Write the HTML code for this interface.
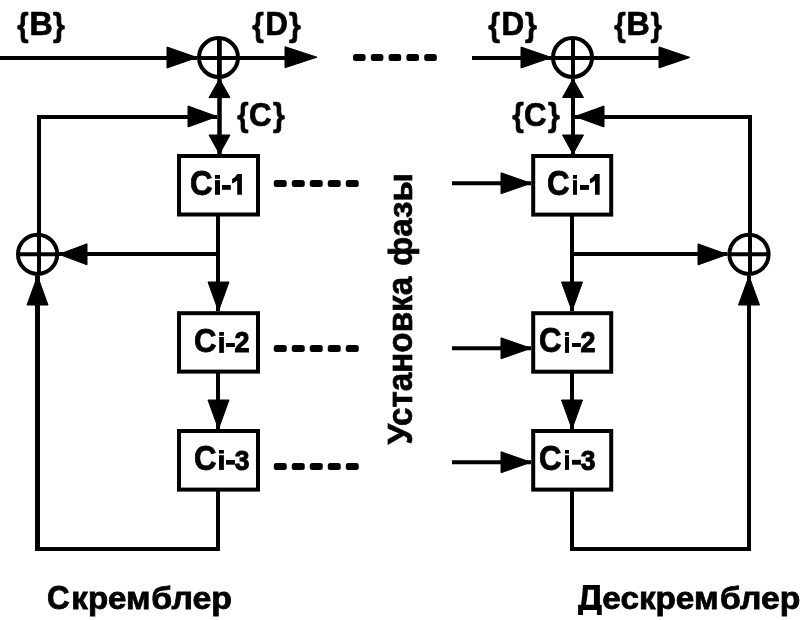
<!DOCTYPE html>
<html><head><meta charset="utf-8"><style>html,body{margin:0;padding:0;background:#fff;width:800px;height:620px;overflow:hidden}svg{display:block}</style></head>
<body><svg width="800" height="620" viewBox="0 0 800 620">
<rect width="800" height="620" fill="#fff"/>
<g stroke="#000" fill="#000">
<line x1="0" y1="58" x2="197" y2="58" stroke-width="4"/>
<polygon points="167,47.0 167,68.0 197,57.5"/>
<circle cx="218.5" cy="57.5" r="19.5" stroke-width="4" fill="none"/>
<line x1="219.4" y1="37.0" x2="219.4" y2="78.0" stroke-width="4.8"/>
<line x1="198.0" y1="58" x2="239.0" y2="58" stroke-width="4"/>
<line x1="238" y1="58" x2="286" y2="58" stroke-width="4"/>
<polygon points="285,46.7 285,67.7 317,57.2"/>
<rect x="353.0" y="54" width="12.6" height="7" rx="2.5" stroke="none"/>
<rect x="370.8" y="54" width="12.6" height="7" rx="2.5" stroke="none"/>
<rect x="388.6" y="54" width="12.6" height="7" rx="2.5" stroke="none"/>
<rect x="406.4" y="54" width="12.6" height="7" rx="2.5" stroke="none"/>
<rect x="424.2" y="54" width="12.6" height="7" rx="2.5" stroke="none"/>
<line x1="472" y1="58" x2="551.5" y2="58" stroke-width="4"/>
<polygon points="521,47.0 521,68.0 551.5,57.5"/>
<circle cx="572.5" cy="57.5" r="19.5" stroke-width="4" fill="none"/>
<line x1="573" y1="37.0" x2="573" y2="78.0" stroke-width="4"/>
<line x1="552.0" y1="58" x2="593.0" y2="58" stroke-width="4"/>
<line x1="592" y1="58" x2="660" y2="58" stroke-width="4"/>
<polygon points="659,46.9 659,67.9 690,57.4"/>
<line x1="219.5" y1="79" x2="219.5" y2="154" stroke-width="4.5"/>
<polygon points="209.0,97.6 230.0,97.6 219.5,79"/>
<polygon points="209.0,135 230.0,135 219.5,154"/>
<line x1="39" y1="235" x2="39" y2="117" stroke-width="4"/>
<line x1="37" y1="117" x2="217" y2="117" stroke-width="4"/>
<polygon points="188,106.0 188,127.0 217,116.5"/>
<rect x="179" y="156" width="79" height="58.5" stroke-width="4" fill="none"/>
<line x1="218" y1="216" x2="218" y2="311" stroke-width="4"/>
<line x1="59" y1="254" x2="218" y2="254" stroke-width="4"/>
<polygon points="87,243.8 87,264.8 59,254.3"/>
<polygon points="208.0,282 229.0,282 218.5,311"/>
<circle cx="37.6" cy="254.3" r="19.6" stroke-width="4" fill="none"/>
<line x1="39" y1="233.70000000000002" x2="39" y2="274.90000000000003" stroke-width="4"/>
<line x1="17.0" y1="254.3" x2="58.2" y2="254.3" stroke-width="4"/>
<rect x="179" y="313.2" width="79" height="58.4" stroke-width="4" fill="none"/>
<line x1="218" y1="373" x2="218" y2="429" stroke-width="4"/>
<polygon points="208.0,400 229.0,400 218.5,429"/>
<rect x="179" y="431" width="79" height="58.6" stroke-width="4" fill="none"/>
<line x1="218" y1="491" x2="218" y2="549" stroke-width="4"/>
<line x1="35.5" y1="549" x2="220" y2="549" stroke-width="4"/>
<line x1="37.5" y1="551" x2="37.5" y2="276" stroke-width="5"/>
<polygon points="27.0,305 48.0,305 37.5,276"/>
<line x1="573" y1="79" x2="573" y2="154" stroke-width="4"/>
<polygon points="562.5,97.5 583.5,97.5 573,79"/>
<polygon points="562.5,135 583.5,135 573,154"/>
<line x1="575" y1="117" x2="752" y2="117" stroke-width="4"/>
<line x1="750" y1="115" x2="750" y2="235" stroke-width="4"/>
<polygon points="604,106.0 604,127.0 575,116.5"/>
<rect x="533.2" y="156" width="78" height="58.6" stroke-width="4" fill="none"/>
<line x1="572" y1="216" x2="572" y2="311" stroke-width="4"/>
<line x1="572" y1="254" x2="727.4" y2="254" stroke-width="4"/>
<polygon points="698,243.9 698,264.9 727.4,254.4"/>
<polygon points="561.5,282 582.5,282 572,311"/>
<circle cx="749" cy="254.3" r="19.6" stroke-width="4" fill="none"/>
<line x1="750" y1="233.70000000000002" x2="750" y2="274.90000000000003" stroke-width="4"/>
<line x1="728.4" y1="254.2" x2="769.6" y2="254.2" stroke-width="4"/>
<rect x="533.2" y="313.2" width="78" height="58.5" stroke-width="4" fill="none"/>
<line x1="572" y1="373" x2="572" y2="429" stroke-width="4"/>
<polygon points="561.5,400 582.5,400 572,429"/>
<rect x="533.2" y="431" width="78" height="58.6" stroke-width="4" fill="none"/>
<line x1="572" y1="491" x2="572" y2="549" stroke-width="4"/>
<line x1="570" y1="549" x2="751" y2="549" stroke-width="4"/>
<line x1="749" y1="551" x2="749" y2="276" stroke-width="4"/>
<polygon points="738.5,305 759.5,305 749,276"/>
<line x1="452" y1="183.25" x2="531" y2="183.25" stroke-width="4"/>
<polygon points="501,172.75 501,193.75 531,183.25"/>
<line x1="452" y1="348.3" x2="531" y2="348.3" stroke-width="4"/>
<polygon points="501,337.8 501,358.8 531,348.3"/>
<line x1="452" y1="462.25" x2="531" y2="462.25" stroke-width="4"/>
<polygon points="501,451.75 501,472.75 531,462.25"/>
<rect x="273.75" y="179.9" width="13" height="7" rx="2.5" stroke="none"/>
<rect x="291.75" y="179.9" width="13" height="7" rx="2.5" stroke="none"/>
<rect x="309.75" y="179.9" width="13" height="7" rx="2.5" stroke="none"/>
<rect x="327.75" y="179.9" width="13" height="7" rx="2.5" stroke="none"/>
<rect x="345.75" y="179.9" width="13" height="7" rx="2.5" stroke="none"/>
<rect x="273.75" y="344.9" width="13" height="7" rx="2.5" stroke="none"/>
<rect x="291.75" y="344.9" width="13" height="7" rx="2.5" stroke="none"/>
<rect x="309.75" y="344.9" width="13" height="7" rx="2.5" stroke="none"/>
<rect x="327.75" y="344.9" width="13" height="7" rx="2.5" stroke="none"/>
<rect x="345.75" y="344.9" width="13" height="7" rx="2.5" stroke="none"/>
<rect x="273.75" y="462.9" width="13" height="7" rx="2.5" stroke="none"/>
<rect x="291.75" y="462.9" width="13" height="7" rx="2.5" stroke="none"/>
<rect x="309.75" y="462.9" width="13" height="7" rx="2.5" stroke="none"/>
<rect x="327.75" y="462.9" width="13" height="7" rx="2.5" stroke="none"/>
<rect x="345.75" y="462.9" width="13" height="7" rx="2.5" stroke="none"/>
</g>
<g fill="#000" stroke="#000" stroke-width="2" opacity="0.999">
<text font-family="'Liberation Sans', sans-serif" font-weight="bold" font-size="100" stroke-width="2.249" transform="matrix(0.29167 0 0 0.33085 17.158 35.602)">{</text>
<text font-family="'Liberation Sans', sans-serif" font-weight="bold" font-size="100" stroke-width="2.139" transform="matrix(0.32258 0 0 0.33188 29.515 35.250)">B</text>
<text font-family="'Liberation Sans', sans-serif" font-weight="bold" font-size="100" stroke-width="2.209" transform="matrix(0.30278 0 0 0.33085 53.044 35.602)">}</text>
<text font-family="'Liberation Sans', sans-serif" font-weight="bold" font-size="100" stroke-width="2.229" transform="matrix(0.29722 0 0 0.33085 252.153 35.602)">{</text>
<text font-family="'Liberation Sans', sans-serif" font-weight="bold" font-size="100" stroke-width="2.182" transform="matrix(0.30968 0 0 0.33188 265.392 35.250)">D</text>
<text font-family="'Liberation Sans', sans-serif" font-weight="bold" font-size="100" stroke-width="2.209" transform="matrix(0.30278 0 0 0.33085 289.044 35.602)">}</text>
<text font-family="'Liberation Sans', sans-serif" font-weight="bold" font-size="100" stroke-width="2.209" transform="matrix(0.30278 0 0 0.33085 488.147 35.602)">{</text>
<text font-family="'Liberation Sans', sans-serif" font-weight="bold" font-size="100" stroke-width="2.161" transform="matrix(0.31452 0 0 0.33333 501.463 35.350)">D</text>
<text font-family="'Liberation Sans', sans-serif" font-weight="bold" font-size="100" stroke-width="2.200" transform="matrix(0.30556 0 0 0.33085 525.039 35.602)">}</text>
<text font-family="'Liberation Sans', sans-serif" font-weight="bold" font-size="100" stroke-width="2.229" transform="matrix(0.29722 0 0 0.33085 614.153 35.602)">{</text>
<text font-family="'Liberation Sans', sans-serif" font-weight="bold" font-size="100" stroke-width="2.139" transform="matrix(0.32258 0 0 0.33188 626.515 35.250)">B</text>
<text font-family="'Liberation Sans', sans-serif" font-weight="bold" font-size="100" stroke-width="2.249" transform="matrix(0.29167 0 0 0.33085 650.467 35.602)">}</text>
<text font-family="'Liberation Sans', sans-serif" font-weight="bold" font-size="100" stroke-width="2.249" transform="matrix(0.29167 0 0 0.33085 237.158 126.402)">{</text>
<text font-family="'Liberation Sans', sans-serif" font-weight="bold" font-size="100" stroke-width="2.143" transform="matrix(0.31231 0 0 0.34085 249.101 126.109)">C</text>
<text font-family="'Liberation Sans', sans-serif" font-weight="bold" font-size="100" stroke-width="2.209" transform="matrix(0.30278 0 0 0.33085 273.044 126.402)">}</text>
<text font-family="'Liberation Sans', sans-serif" font-weight="bold" font-size="100" stroke-width="2.229" transform="matrix(0.29722 0 0 0.33085 512.153 126.402)">{</text>
<text font-family="'Liberation Sans', sans-serif" font-weight="bold" font-size="100" stroke-width="2.143" transform="matrix(0.31231 0 0 0.34085 524.101 126.109)">C</text>
<text font-family="'Liberation Sans', sans-serif" font-weight="bold" font-size="100" stroke-width="2.209" transform="matrix(0.30278 0 0 0.33085 548.044 126.402)">}</text>
<text font-family="'Liberation Sans', sans-serif" font-weight="bold" font-size="100" stroke-width="2.444" transform="matrix(0.31231 0 0 0.34225 190.051 195.158)">C</text>
<text font-family="'Liberation Sans', sans-serif" font-weight="bold" font-size="100" stroke-width="2.450" transform="matrix(0.31231 0 0 0.34085 194.051 352.059)">C</text>
<text font-family="'Liberation Sans', sans-serif" font-weight="bold" font-size="100" stroke-width="2.444" transform="matrix(0.31231 0 0 0.34225 194.051 470.158)">C</text>
<text font-family="'Liberation Sans', sans-serif" font-weight="bold" font-size="100" stroke-width="2.444" transform="matrix(0.31231 0 0 0.34225 547.051 195.158)">C</text>
<text font-family="'Liberation Sans', sans-serif" font-weight="bold" font-size="100" stroke-width="2.444" transform="matrix(0.31231 0 0 0.34225 539.051 352.158)">C</text>
<text font-family="'Liberation Sans', sans-serif" font-weight="bold" font-size="100" stroke-width="2.444" transform="matrix(0.31231 0 0 0.34225 539.051 470.158)">C</text>
<g stroke="none"><rect x="215" y="175" width="5.00" height="3.80"/><rect x="215" y="180.1" width="5.00" height="14.70"/><rect x="222" y="185" width="8.80" height="4.80"/></g>
<g stroke="none" transform="translate(0 0)"><path d="M237.2 173.9 H241.9 V194.8 H237.2 V180.5 Q235 182.5 232.1 183.6 V179 Q235.5 177.5 237.2 173.9 Z"/></g>
<g stroke="none"><rect x="573" y="175" width="4.00" height="3.80"/><rect x="573" y="180.1" width="4.00" height="14.70"/><rect x="580" y="185" width="9.00" height="4.90"/></g>
<g stroke="none" transform="translate(357.8 0)"><path d="M237.2 173.9 H241.9 V194.8 H237.2 V180.5 Q235 182.5 232.1 183.6 V179 Q235.5 177.5 237.2 173.9 Z"/></g>
<g stroke="none"><rect x="219.2" y="332" width="4.70" height="3.80"/><rect x="219.2" y="337" width="4.70" height="15.90"/><rect x="226" y="343" width="8.90" height="4.00"/></g>
<g stroke="none"><rect x="565" y="332" width="4.00" height="3.80"/><rect x="565" y="337" width="4.00" height="15.90"/><rect x="572" y="343" width="8.90" height="4.00"/></g>
<g stroke="none"><rect x="219" y="450" width="4.90" height="3.60"/><rect x="219" y="455.2" width="4.90" height="14.70"/><rect x="226" y="460" width="8.90" height="4.70"/></g>
<g stroke="none"><rect x="565" y="450" width="4.00" height="3.60"/><rect x="565" y="455.2" width="4.00" height="14.70"/><rect x="572" y="459.8" width="8.90" height="4.90"/></g>
<text font-family="'Liberation Sans', sans-serif" font-weight="bold" font-size="100" stroke-width="3.584" transform="matrix(0.26939 0 0 0.28857 234.592 352.400)">2</text>
<text font-family="'Liberation Sans', sans-serif" font-weight="bold" font-size="100" stroke-width="3.584" transform="matrix(0.26939 0 0 0.28857 580.592 352.400)">2</text>
<text font-family="'Liberation Sans', sans-serif" font-weight="bold" font-size="100" stroke-width="3.646" transform="matrix(0.26400 0 0 0.28451 234.872 470.115)">3</text>
<text font-family="'Liberation Sans', sans-serif" font-weight="bold" font-size="100" stroke-width="3.646" transform="matrix(0.26400 0 0 0.28451 580.872 470.115)">3</text>
<text font-family="'Liberation Sans', sans-serif" font-weight="bold" font-size="100" stroke-width="2.444" transform="matrix(0.31385 0 0 0.34085 47.045 609.159)">С</text>
<text font-family="'Liberation Sans', sans-serif" font-weight="bold" font-size="100" stroke-width="2.482" transform="matrix(0.33128 0 0 0.31333 71.312 608.920)">крем</text>
<text font-family="'Liberation Sans', sans-serif" font-weight="bold" font-size="100" stroke-width="2.444" transform="matrix(0.33891 0 0 0.31579 151.294 608.868)">блер</text>
<path stroke="none" fill-rule="evenodd" d="M583 584.9 H599.9 V604.75 H601.75 V614.9 H596.9 V610 H583 V614.9 H578.1 V604.75 H581.1 L582.25 595 Z M587.9 589.75 H593.9 V604.75 H586 L587.35 596.5 Z"/>
<text font-family="'Liberation Sans', sans-serif" font-weight="bold" font-size="100" stroke-width="2.476" transform="matrix(0.33289 0 0 0.31333 602.318 608.920)">ескрем</text>
<text font-family="'Liberation Sans', sans-serif" font-weight="bold" font-size="100" stroke-width="2.451" transform="matrix(0.33696 0 0 0.31579 720.052 608.868)">блер</text>
<text font-family="'Liberation Sans', sans-serif" font-weight="bold" font-size="100" stroke-width="2.056" transform="matrix(0 -0.33241 0.34857 0 412.401 444.550)">Установка</text>
<text font-family="'Liberation Sans', sans-serif" font-weight="bold" font-size="100" stroke-width="2.138" transform="matrix(0 -0.33123 0.32364 0 412.426 265.775)">фазы</text>
</g>
</svg></body></html>
